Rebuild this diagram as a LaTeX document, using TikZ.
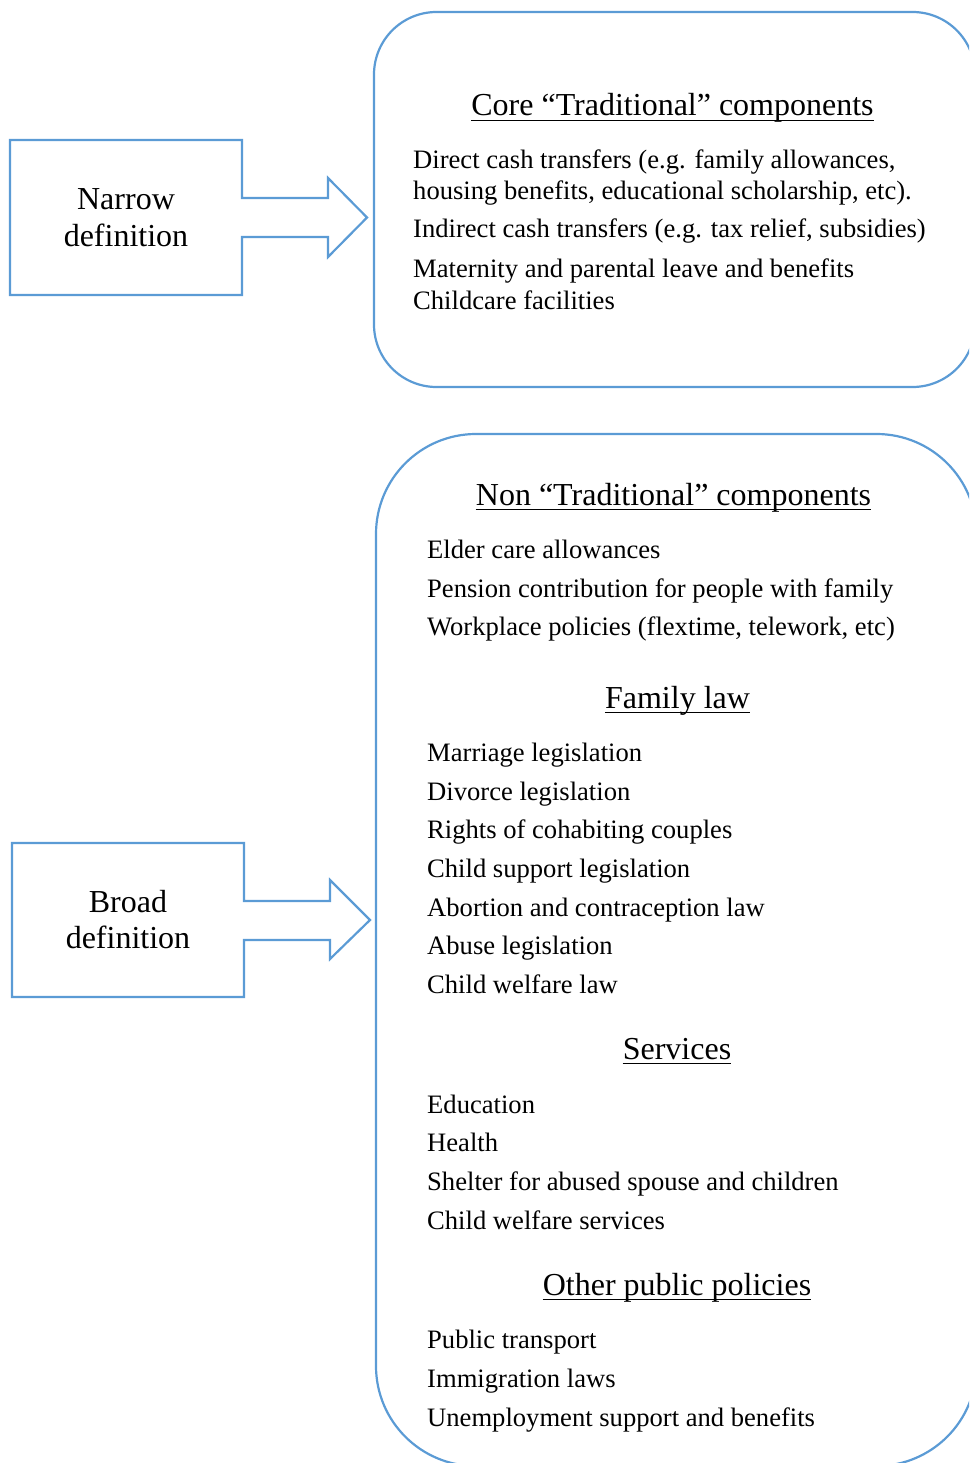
\documentclass[tikz,border=0pt]{standalone}
\usepackage{fontspec}
\setmainfont{Liberation Serif}
\definecolor{wordblue}{RGB}{91,155,213}
\tikzset{
  outline/.style={draw=wordblue, line width=2.2pt, line join=miter},
  item/.style={anchor=base west, inner sep=0pt, font=\fontsize{26.6}{31}\selectfont},
  heading/.style={anchor=base, inner sep=0pt, font=\fontsize{32}{38}\selectfont},
  label/.style={align=center, inner sep=0pt, font=\fontsize{32}{37}\selectfont},
  uline/.style={line width=1.7pt, black}
}
\newcommand{\ulhead}[1]{\draw[uline] ([yshift=-4.5pt]#1.base west) -- ([yshift=-4.5pt]#1.base east);}
\begin{document}
\begin{tikzpicture}[x=1pt, y=-1pt]
\useasboundingbox (0,0) rectangle (969,1463);
\clip (0,0) rectangle (969,1463);

% rounded boxes
\draw[outline, rounded corners=62.5pt] (374,12) rectangle (975,387);
\draw[outline, rounded corners=100pt] (376,434) rectangle (976.5,1466);

% narrow callout
\draw[outline] (10,140) -- (242,140) -- (242,198) -- (328,198) -- (328,178)
  -- (367,217.5) -- (328,257) -- (328,237) -- (242,237) -- (242,295) -- (10,295) -- cycle;
\node[label, anchor=base] (narrow) at (126,210) {Narrow};
\node[label, anchor=base] (narrowdef) at (126,247) {definition};

% broad callout
\draw[outline] (12,843) -- (244,843) -- (244,901) -- (330,901) -- (330,880)
  -- (370,920) -- (330,959) -- (330,940) -- (244,940) -- (244,997) -- (12,997) -- cycle;
\node[label, anchor=base] (broad) at (128,912) {Broad};
\node[label, anchor=base] (broaddef) at (128,948.5) {definition};

% upper box content
\node[heading] (core) at (672.5,116) {Core “Traditional” components};
\ulhead{core}
\node[item] (c1) at (413,169) {Direct cash transfers (e.g. family allowances,};
\node[item] (c1b) at (413,200) {housing benefits, educational scholarship, etc).};
\node[item] (c2) at (413,238) {Indirect cash transfers (e.g. tax relief, subsidies)};
\node[item] (c3) at (413,277) {Maternity and parental leave and benefits};
\node[item] (c4) at (413,309) {Childcare facilities};

% lower box content
\node[heading] (non) at (673.5,505) {Non “Traditional” components};
\ulhead{non}
\node[item] (n1) at (427,558) {Elder care allowances};
\node[item] (n2) at (427,597) {Pension contribution for people with family};
\node[item] (n3) at (427,635) {Workplace policies (flextime, telework, etc)};

\node[heading] (fam) at (677.5,708) {Family law};
\ulhead{fam}
\node[item] (f1) at (427,761) {Marriage legislation};
\node[item] (f2) at (427,800) {Divorce legislation};
\node[item] (f3) at (427,838) {Rights of cohabiting couples};
\node[item] (f4) at (427,877) {Child support legislation};
\node[item] (f5) at (427,916) {Abortion and contraception law};
\node[item] (f6) at (427,954) {Abuse legislation};
\node[item] (f7) at (427,993) {Child welfare law};

\node[heading] (serv) at (677,1059) {Services};
\ulhead{serv}
\node[item] (s1) at (427,1113) {Education};
\node[item] (s2) at (427,1151) {Health};
\node[item] (s3) at (427,1190) {Shelter for abused spouse and children};
\node[item] (s4) at (427,1229) {Child welfare services};

\node[heading] (oth) at (677,1295) {Other public policies};
\ulhead{oth}
\node[item] (o1) at (427,1348) {Public transport};
\node[item] (o2) at (427,1387) {Immigration laws};
\node[item] (o3) at (427,1426) {Unemployment support and benefits};
\end{tikzpicture}
\end{document}
